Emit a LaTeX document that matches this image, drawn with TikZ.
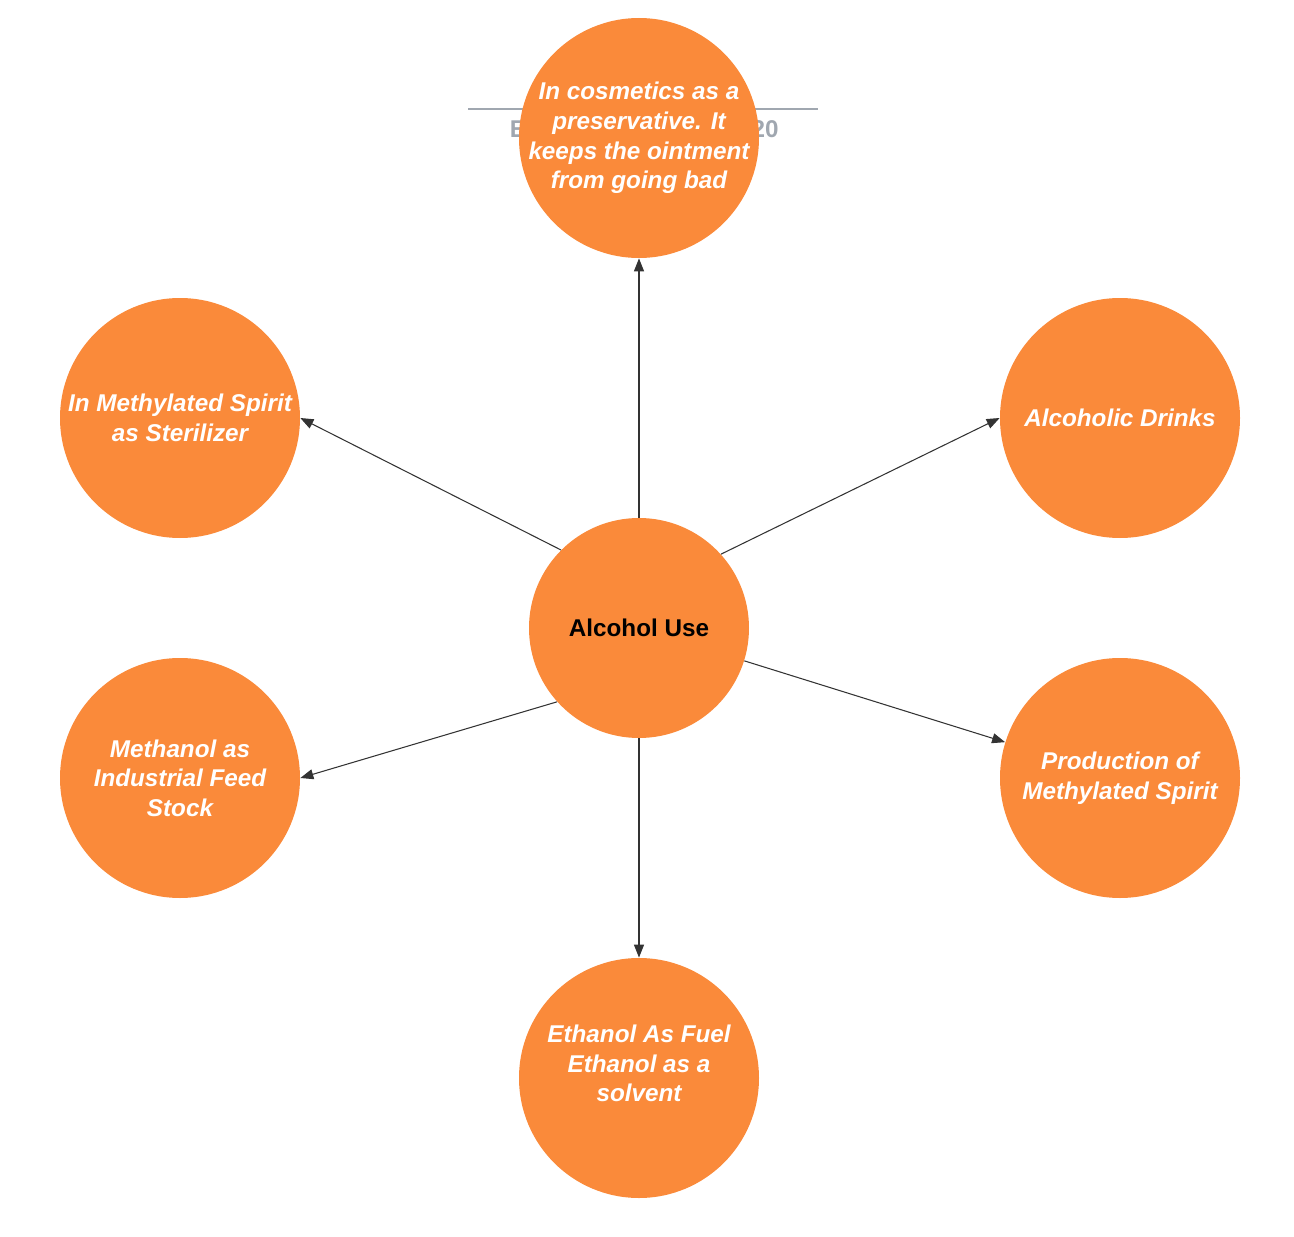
\documentclass[tikz,border=0pt]{standalone}
\usepackage{fontspec}
\setmainfont{Liberation Sans}
\usepackage{xcolor}
\usetikzlibrary{arrows.meta, positioning}

\definecolor{useorange}{RGB}{250,138,58}
\definecolor{linegrey}{RGB}{51,51,51}
\definecolor{titlegrey}{RGB}{160,167,176}

\begin{document}
\begin{tikzpicture}[
			font=\fontsize{13.8}{16.8}\selectfont\bfseries,
			hub/.style={
				circle,
				fill=useorange,
				minimum size=4.4cm,
				inner sep=0pt,
				align=center,
				text=black
			},
			use/.style={
				circle,
				fill=useorange,
				minimum size=4.8cm,
				inner sep=-0.3cm,
				align=center,
				text=white,
				font=\fontsize{13.8}{16.8}\selectfont\bfseries\itshape
			},
			arr/.style={-{Triangle[length=2.6mm, width=2mm]}, linegrey, line width=0.6pt}
			]
			
			\useasboundingbox (0,0) rectangle (25.88,-24.74);
			
			% title line behind the top circle
			\coordinate (tl) at (9.36,-2.18);
			\coordinate (tr) at (16.36,-2.18);
			\draw[titlegrey, line width=1.2pt] (tl) -- (tr);
			\node[text=titlegrey, font=\fontsize{13.8}{15}\selectfont\bfseries] (te) at (10.36,-2.58) {E};
			\node[text=titlegrey, font=\fontsize{13.8}{15}\selectfont\bfseries] (tn) at (15.3,-2.58) {20};
			
			\node[hub] (c) at (12.78,-12.56) {Alcohol Use};
			\node[use] (top) at (12.78,-2.76) {In cosmetics as a\\preservative. It\\keeps the ointment\\from going bad};
			\node[use] (lu) at (3.6,-8.36) {In Methylated Spirit\\as Sterilizer};
			\node[use] (ru) at (22.4,-8.36) {Alcoholic Drinks};
			\node[use] (ll) at (3.6,-15.56) {Methanol as\\Industrial Feed\\Stock};
			\node[use] (rl) at (22.4,-15.56) {Production of\\Methylated Spirit};
			\node[use] (bot) at (12.78,-21.56) {Ethanol As Fuel\\Ethanol as a\\solvent\\\mbox{}};
			
			\draw[arr] (c) -- (top);
			\draw[arr] (c.135.7) -- (lu.east);
			\draw[arr] (c.42.8) -- (ru.west);
			\draw[arr] (c.222.8) -- (ll.east);
			\draw[arr] (c) -- (rl);
			\draw[arr] (c) -- (bot);
			
		\end{tikzpicture}
\end{document}
